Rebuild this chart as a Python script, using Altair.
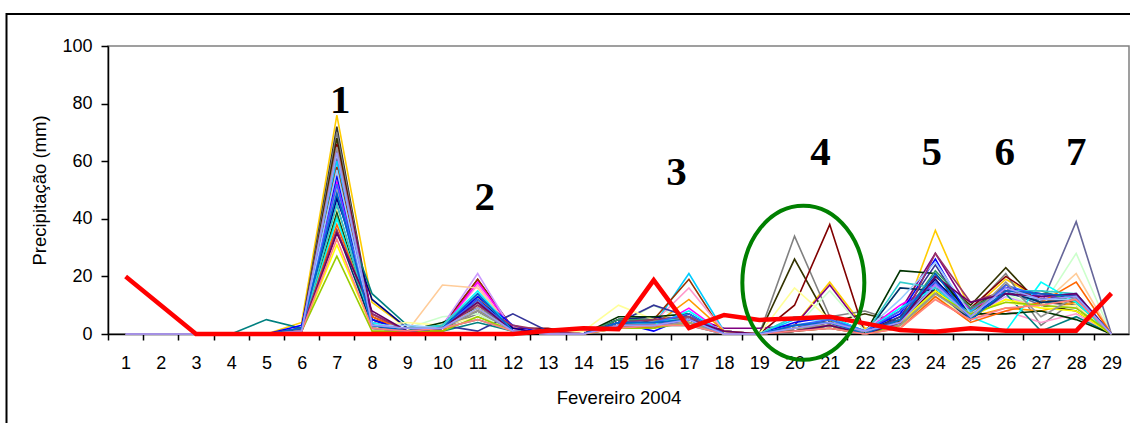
import altair as alt
import pandas as pd

# Days of February 2004
days = list(range(1, 30))

# Observed precipitation (mm)
observed = [20, 10, 0, 0, 0, 0, 0, 0, 0, 0, 0, 0, 1.1, 2, 1.7, 18.7, 2.1, 6.6,
            4.9, 5.4, 6, 3.7, 1.4, 0.8, 2, 1.1, 1.1, 1.1, 14.1]

# Ensemble members (mm per day, days 1..29)
mem_01 = [0, 0, 0, 0, 0, 4, 76, 11, 2, 3, 10, 1, 0, 0, 3, 3, 4, 0, 0, 3, 18, 2, 3, 36, 8, 19, 12, 10, 0]
mem_02 = [0, 0, 0, 0, 0, 2, 72, 5, 1, 2, 9, 1, 0, 0, 5, 5, 6, 1, 0, 2, 5, 1, 6, 18, 9, 16, 11, 10, 0]
mem_03 = [0, 0, 0, 0, 0, 1, 70, 4, 1, 2, 7, 1, 0, 1, 4, 4, 5, 0, 0, 34, 6, 8, 4, 17, 8, 21, 3, 12, 0]
mem_04 = [0, 0, 0, 0, 0, 1, 68, 3, 1, 2, 8, 1, 0, 0, 5, 5, 6, 0, 0, 26, 4, 7, 4, 20, 10, 23, 10, 8, 0]
mem_05 = [0, 0, 0, 0, 0, 1, 66, 6, 1, 3, 19, 2, 2, 0, 4, 3, 5, 1, 0, 10, 38, 0, 4, 16, 9, 20, 12, 13, 0]
mem_06 = [0, 0, 0, 0, 0, 2, 64, 7, 1, 2, 12, 1, 0, 0, 3, 4, 6, 2, 2, 3, 17, 1, 8, 28, 8, 16, 13, 13, 0]
mem_07 = [0, 0, 0, 0, 0, 1, 62, 2, 2, 6, 7, 1, 0, 0, 3, 10, 4, 0, 0, 2, 15, 1, 3, 13, 6, 14, 9, 28, 0]
mem_08 = [0, 0, 0, 0, 0, 1, 61, 4, 1, 2, 10, 1, 0, 0, 4, 4, 5, 0, 0, 1, 3, 1, 5, 17, 8, 15, 10, 39, 0]
mem_09 = [0, 0, 0, 0, 0, 1, 60, 3, 2, 2, 12, 1, 0, 0, 3, 3, 21, 1, 0, 5, 5, 1, 9, 17, 8, 15, 11, 12, 0]
mem_10 = [0, 0, 0, 0, 0, 1, 58, 5, 1, 2, 19, 1, 1, 0, 2, 5, 19, 0, 0, 2, 4, 1, 4, 15, 7, 17, 12, 11, 0]
mem_11 = [0, 0, 0, 0, 0, 1, 56, 2, 1, 2, 17, 1, 0, 1, 3, 4, 16, 1, 0, 1, 3, 0, 3, 12, 5, 8, 4, 7, 0]
mem_12 = [0, 0, 0, 0, 0, 1, 55, 3, 1, 2, 13, 1, 0, 0, 3, 3, 12, 1, 0, 2, 4, 1, 3, 14, 6, 9, 8, 11, 0]
mem_13 = [0, 0, 0, 0, 0, 1, 53, 4, 1, 2, 18, 2, 0, 0, 3, 2, 9, 0, 0, 2, 3, 1, 10, 17, 9, 14, 13, 13, 0]
mem_14 = [0, 0, 0, 0, 0, 1, 51, 3, 2, 3, 21, 1, 0, 0, 3, 4, 7, 0, 0, 1, 3, 1, 4, 14, 6, 13, 9, 10, 0]
mem_15 = [0, 0, 0, 0, 0, 1, 50, 2, 1, 17, 16, 1, 0, 0, 3, 3, 5, 0, 0, 1, 3, 0, 3, 12, 6, 12, 10, 21, 0]
mem_16 = [0, 0, 0, 0, 5, 2, 48, 14, 3, 1, 4, 1, 0, 0, 4, 3, 3, 0, 0, 1, 2, 0, 4, 15, 6, 14, 1, 6, 0]
mem_17 = [0, 0, 0, 0, 0, 2, 47, 12, 2, 2, 12, 2, 0, 0, 5, 6, 4, 0, 0, 3, 4, 0, 5, 19, 5, 15, 12, 13, 0]
mem_18 = [0, 0, 0, 0, 0, 1, 45, 2, 1, 3, 1, 7, 1, 0, 4, 10, 6, 0, 0, 2, 3, 0, 6, 24, 5, 14, 12, 14, 0]
mem_19 = [0, 0, 0, 0, 0, 1, 43, 3, 4, 3, 6, 1, 0, 1, 10, 5, 4, 0, 0, 16, 5, 1, 2, 12, 7, 11, 9, 10, 0]
mem_20 = [0, 0, 0, 0, 0, 1, 42, 3, 1, 4, 9, 1, 0, 0, 6, 6, 7, 0, 0, 2, 4, 0, 22, 21, 7, 7, 8, 5, 0]
mem_21 = [0, 0, 0, 0, 0, 1, 41, 2, 1, 2, 5, 1, 0, 0, 5, 5, 4, 0, 0, 1, 3, 0, 5, 22, 9, 15, 15, 11, 0]
mem_22 = [0, 0, 0, 0, 0, 3, 55, 5, 1, 2, 13, 3, 0, 0, 4, 1, 6, 0, 0, 4, 6, 1, 7, 26, 5, 16, 14, 13, 0]
mem_23 = [0, 0, 0, 0, 0, 1, 40, 4, 1, 3, 15, 1, 0, 0, 3, 3, 8, 0, 0, 6, 6, 1, 9, 16, 6, 1, 18, 11, 0]
mem_24 = [0, 0, 0, 0, 0, 1, 38, 6, 1, 1, 11, 1, 0, 0, 3, 2, 6, 0, 0, 1, 2, 0, 2, 13, 4, 8, 11, 18, 0]
mem_25 = [0, 0, 0, 0, 0, 1, 36, 3, 1, 2, 11, 1, 0, 0, 4, 4, 5, 0, 0, 1, 3, 0, 16, 15, 5, 15, 11, 12, 0]
mem_26 = [0, 0, 0, 0, 0, 1, 45, 3, 2, 3, 14, 1, 0, 0, 3, 4, 6, 0, 0, 6, 5, 0, 18, 16, 7, 15, 15, 14, 0]
mem_27 = [0, 0, 0, 0, 0, 1, 57, 3, 3, 2, 11, 1, 0, 0, 3, 3, 5, 0, 0, 3, 4, 1, 12, 25, 7, 15, 12, 12, 0]
mem_28 = [0, 0, 0, 0, 0, 2, 36, 7, 1, 2, 10, 3, 1, 0, 4, 5, 6, 0, 0, 2, 4, 1, 3, 28, 11, 15, 14, 13, 0]
mem_29 = [0, 0, 0, 0, 0, 1, 31, 2, 1, 2, 9, 1, 0, 0, 3, 3, 4, 0, 0, 2, 3, 0, 4, 15, 6, 12, 9, 8, 0]
mem_30 = [0, 0, 0, 0, 0, 1, 27, 1, 1, 1, 6, 1, 0, 0, 2, 2, 4, 0, 0, 1, 3, 0, 3, 14, 7, 11, 10, 9, 0]
mem_31 = [0, 0, 0, 0, 0, 1, 52, 2, 1, 2, 12, 1, 0, 0, 4, 4, 7, 0, 0, 3, 5, 1, 8, 18, 6, 17, 13, 14, 0]
mem_32 = [0, 0, 0, 0, 0, 1, 65, 3, 2, 2, 8, 1, 0, 0, 3, 3, 4, 0, 0, 2, 3, 1, 3, 14, 6, 18, 6, 13, 0]
mem_33 = [0, 0, 0, 0, 0, 1, 35, 8, 1, 2, 11, 1, 0, 0, 3, 3, 5, 1, 0, 1, 3, 0, 4, 20, 11, 14, 13, 14, 0]
mem_34 = [0, 0, 0, 0, 0, 2, 49, 3, 1, 2, 14, 1, 0, 0, 4, 4, 5, 0, 0, 3, 4, 0, 5, 21, 5, 15, 14, 13, 0]
mem_35 = [0, 0, 0, 0, 0, 1, 33, 2, 1, 2, 5, 1, 0, 0, 2, 3, 3, 0, 0, 1, 2, 0, 2, 12, 5, 9, 10, 12, 0]
mem_36 = [0, 0, 0, 0, 0, 1, 63, 3, 2, 2, 9, 1, 0, 0, 3, 3, 5, 0, 0, 2, 4, 1, 4, 17, 6, 16, 12, 13, 0]

members = [mem_01, mem_02, mem_03, mem_04, mem_05, mem_06, mem_07, mem_08, mem_09,
           mem_10, mem_11, mem_12, mem_13, mem_14, mem_15, mem_16, mem_17, mem_18,
           mem_19, mem_20, mem_21, mem_22, mem_23, mem_24, mem_25, mem_26, mem_27,
           mem_28, mem_29, mem_30, mem_31, mem_32, mem_33, mem_34, mem_35, mem_36]

member_colors = ["#FFCC00", "#333333", "#808080", "#333300", "#800000", "#800080",
                 "#CCFFCC", "#666699", "#00CCFF", "#993300", "#FF99CC", "#FF9900",
                 "#FF00FF", "#CC99FF", "#FFCC99", "#008080", "#000080", "#333399",
                 "#FFFF99", "#003300", "#339966", "#0000FF", "#00FFFF", "#FF6600",
                 "#003366", "#33CCCC", "#99CCFF", "#993366", "#FFFF00", "#99CC00",
                 "#3366FF", "#969696", "#660066", "#0066CC", "#FF8080", "#9999FF"]

# Event numbers placed above the rain episodes
event_labels = ["1", "2", "3", "4", "5", "6", "7"]
event_x = [7.1, 11.2, 16.65, 20.74, 23.9, 25.97, 28.0]
event_y = [76.7, 43.1, 51.7, 58.7, 58.7, 58.7, 58.7]

# Highlighted ensemble spread around days 20-21
circle_x = [20.25]
circle_y = [17.8]

member_names = [f"m{i + 1:02d}" for i in range(len(members))]
ens_rows = []
for name, vals in zip(member_names, members):
    for d, v in zip(days, vals):
        ens_rows.append({"member": name, "day": d, "value": v})
ens_df = pd.DataFrame(ens_rows)
obs_df = pd.DataFrame({"day": days, "value": observed})
lab_df = pd.DataFrame({"label": event_labels, "day": event_x, "value": event_y})
circ_df = pd.DataFrame({"day": circle_x, "value": circle_y})

W, H = 1021, 288
half_band = W / 29 / 2

x_enc = alt.X(
    "day:Q",
    scale=alt.Scale(domain=[0.5, 29.5], nice=False, zero=False),
    axis=alt.Axis(
        values=days, tickCount=60, format="d", title="Fevereiro 2004", grid=False,
        tickOffset=-half_band, labelOffset=half_band,
        labelOverlap=False, labelBound=False, labelFlush=False,
        tickSize=6, tickColor="black", tickWidth=1.5,
        domainColor="black", domainWidth=1.5,
        labelPadding=14.5, labelFontSize=18, labelFont="Liberation Sans", labelColor="black",
        titleFontSize=18.5, titleFont="Liberation Sans", titleFontWeight="normal",
        titleColor="black", titlePadding=16,
    ),
)
y_enc = alt.Y(
    "value:Q",
    scale=alt.Scale(domain=[0, 100], nice=False),
    axis=alt.Axis(
        values=[0, 20, 40, 60, 80, 100], title="Precipitação (mm)", grid=False,
        tickSize=7, tickColor="black", tickWidth=1.5,
        domainColor="black", domainWidth=1.5,
        labelPadding=9, labelFontSize=18, labelFont="Liberation Sans", labelColor="black",
        titleFontSize=18.5, titleFont="Liberation Sans", titleFontWeight="normal",
        titleColor="black", titlePadding=12.5,
    ),
)

frame = alt.Chart(pd.DataFrame({"k": [0]})).mark_rect(
    fillOpacity=0, stroke="black", strokeWidth=2
).encode(
    x=alt.value(-101.5), x2=alt.value(W + 20), y=alt.value(-32), y2=alt.value(H + 100)
)

ensemble = alt.Chart(ens_df).mark_line(strokeWidth=1.6).encode(
    x=x_enc,
    y=y_enc,
    color=alt.Color("member:N", scale=alt.Scale(domain=member_names, range=member_colors),
                    legend=None),
    order=alt.Order("day:Q"),
)

obs = alt.Chart(obs_df).mark_line(color="#FF0000", strokeWidth=4.5).encode(
    x="day:Q", y="value:Q"
)

labels = alt.Chart(lab_df).mark_text(
    font="Liberation Serif", fontWeight="bold", fontSize=41, color="black",
    baseline="alphabetic", align="center"
).encode(x="day:Q", y="value:Q", text="label:N")

k = 1.262
c = 0.5523
ellipse_path = (
    f"M 1 0 C 1 {c * k:.4f} {c:.4f} {k} 0 {k} "
    f"C {-c:.4f} {k} -1 {c * k:.4f} -1 0 "
    f"C -1 {-c * k:.4f} {-c:.4f} {-k} 0 {-k} "
    f"C {c:.4f} {-k} 1 {-c * k:.4f} 1 0 Z"
)
ring = alt.Chart(circ_df).mark_point(
    shape=ellipse_path, size=122 * 122, filled=False, stroke="#008000",
    strokeWidth=4, opacity=1
).encode(x="day:Q", y="value:Q")

chart = alt.layer(frame, ensemble, obs, labels, ring).properties(
    width=W, height=H,
    autosize=alt.AutoSizeParams(type="none"),
    padding={"left": 108, "top": 46, "right": 1, "bottom": 89},
    background="white",
).configure_view(stroke="#808080", strokeWidth=1.5)

chart.save("out.html", embed_options={"renderer": "svg", "actions": False})
